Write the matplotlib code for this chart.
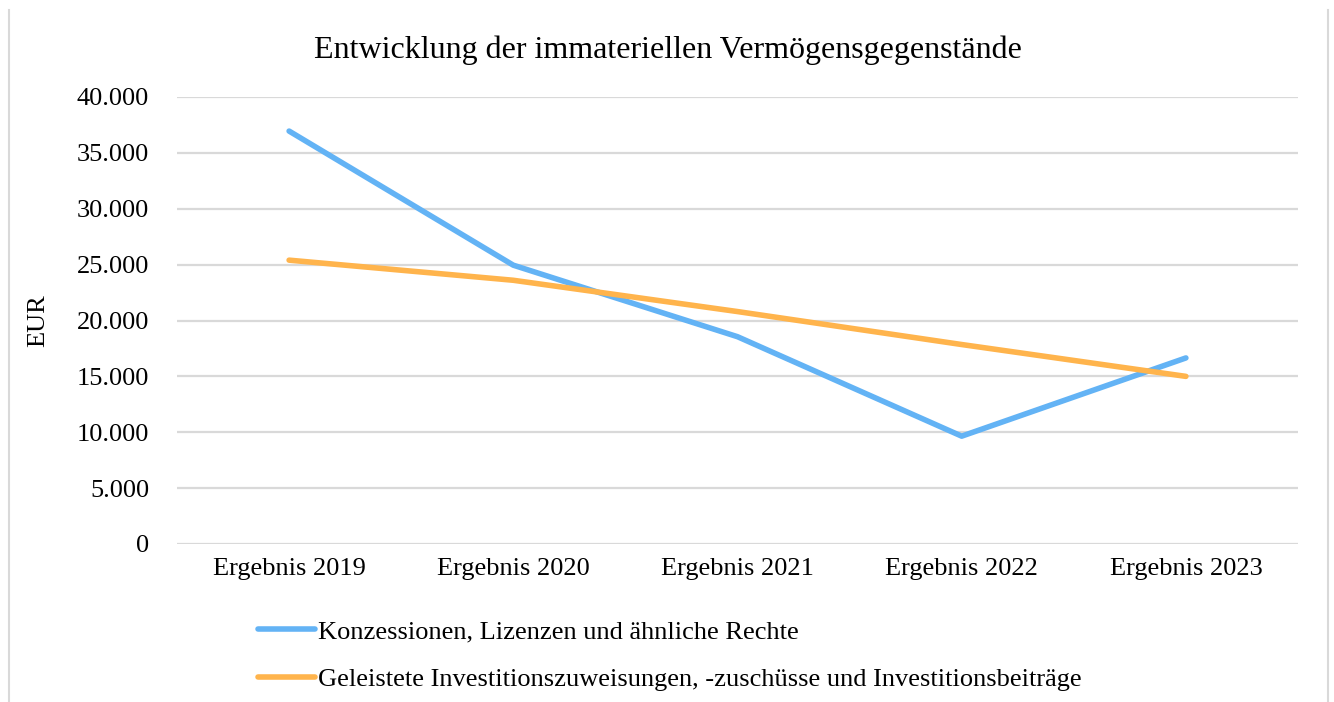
import matplotlib.pyplot as plt
from matplotlib.ticker import FuncFormatter
from matplotlib.lines import Line2D

plt.rcParams['font.family'] = ['Liberation Serif', 'DejaVu Serif']

categories = ['Ergebnis 2019', 'Ergebnis 2020', 'Ergebnis 2021', 'Ergebnis 2022', 'Ergebnis 2023']
konzessionen = [36950, 24950, 18550, 9650, 16650]
investitionen = [25400, 23600, 20800, 17850, 15000]
series_names = ['Konzessionen, Lizenzen und ähnliche Rechte',
                'Geleistete Investitionszuweisungen, -zuschüsse und Investitionsbeiträge']
blue = '#63B3F5'
orange = '#FFB44C'

fig = plt.figure(figsize=(13.34, 7.02), dpi=100)
ax = fig.add_axes([177 / 1334, 1 - 544 / 702, 1121 / 1334, 447 / 702])

x = range(len(categories))
ax.plot(x, konzessionen, color=blue, lw=4, solid_capstyle='round', solid_joinstyle='round')
ax.plot(x, investitionen, color=orange, lw=4, solid_capstyle='round', solid_joinstyle='round')

ax.set_xlim(-0.5, len(categories) - 0.5)
ax.set_ylim(0, 40000)
ax.set_yticks(range(0, 40001, 5000))
ax.yaxis.set_major_formatter(FuncFormatter(lambda v, p: f'{int(v):,}'.replace(',', '.')))
ax.set_xticks(list(x))
ax.set_xticklabels(categories)
ax.tick_params(axis='both', length=0, labelsize=19, colors='black')
ax.tick_params(axis='x', pad=10)
ax.tick_params(axis='y', pad=20)
ax.grid(axis='y', color='#D9D9D9', lw=1.6)
ax.set_axisbelow(True)
for s in ax.spines.values():
    s.set_visible(False)
ax.set_ylabel('EUR', fontsize=19, labelpad=20)

fig.text(668 / 1334, 1 - 50 / 702, 'Entwicklung der immateriellen Vermögensgegenstände',
         ha='center', va='center', fontsize=23)

# legend below plot
handles = [Line2D([0], [0], color=blue, lw=4, solid_capstyle='round'),
           Line2D([0], [0], color=orange, lw=4, solid_capstyle='round')]
fig.legend(handles, series_names, loc='upper left', bbox_to_anchor=(258 / 1334, 1 - 620 / 702),
           frameon=False, fontsize=19, handlelength=2.15, handletextpad=0.12,
           labelspacing=0.93, borderpad=0, borderaxespad=0)

# frame lines on left and right
fig.add_artist(Line2D([9 / 1334, 9 / 1334], [0, 1 - 10 / 702], color='#D9D9D9', lw=1.5))
fig.add_artist(Line2D([1328 / 1334, 1328 / 1334], [0, 1 - 10 / 702], color='#D9D9D9', lw=1.5))

fig.savefig('out.png', dpi=100)
